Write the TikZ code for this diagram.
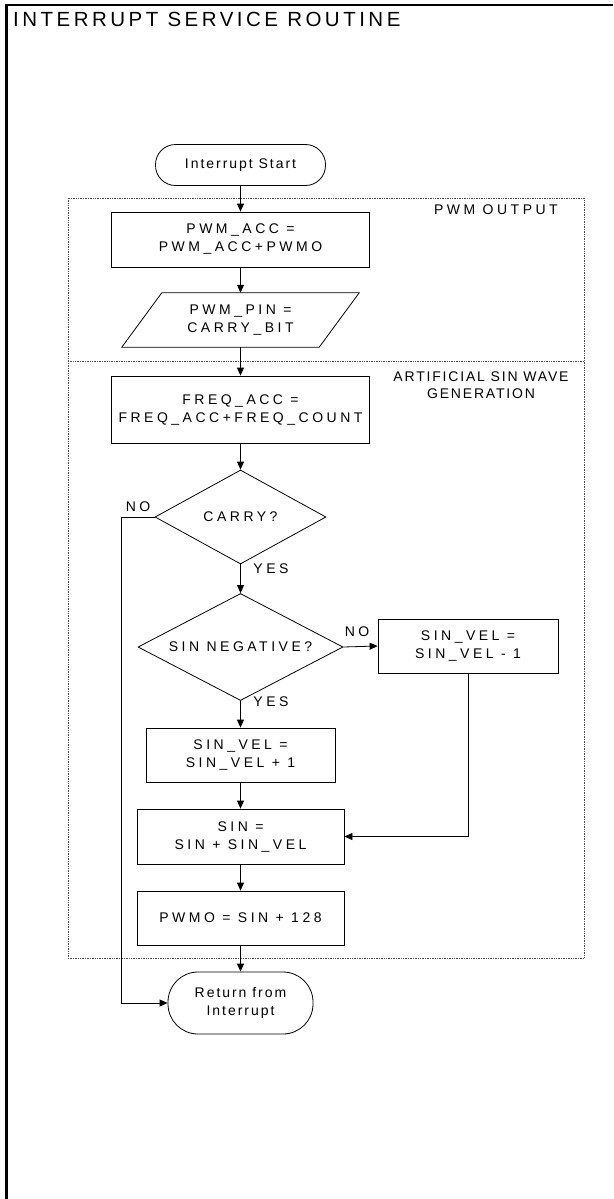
\documentclass[tikz,border=0pt]{standalone}
\usepackage{fontspec}
\setmainfont{Liberation Sans}
\usetikzlibrary{shapes.geometric,arrows.meta}
\newfontfamily\boxfam[LetterSpace=25]{Liberation Sans}
\newfontfamily\termfam[LetterSpace=14]{Liberation Sans}
\newfontfamily\titlefam[LetterSpace=17]{Liberation Sans}
\newfontfamily\artfam[LetterSpace=13]{Liberation Sans}
\newcommand\boxfont{\boxfam\fontsize{14}{18}\selectfont}
\newcommand\termfont{\termfam\fontsize{14}{18}\selectfont}
\newcommand\titlefont{\titlefam\fontsize{20.5}{24}\selectfont}
\newcommand\artfont{\artfam\fontsize{14}{17}\selectfont}
\tikzset{
  base/.style={font=\boxfont, inner sep=0pt, align=center},
  proc/.style={base, draw, rectangle, line width=0.8pt},
  term/.style={base, font=\termfont, draw, rectangle, line width=0.8pt},
  dec/.style={base, draw, diamond, aspect=2, line width=0.8pt},
  arr/.style={-{Triangle[length=8pt,width=7pt]}, line width=0.8pt},
  conn/.style={line width=0.8pt},
  lbl/.style={font=\boxfont, inner sep=0pt},
  zone/.style={densely dotted, line width=0.7pt, draw=black!70},
  frame/.style={line width=2.5pt}
}
\begin{document}
\begin{tikzpicture}[x=1pt,y=-1pt]
\useasboundingbox (0,0) rectangle (613,1199);
% outer frame (top and left only)
\coordinate (ftl) at (6.5,5);
\coordinate (ftr) at (613,5);
\coordinate (fbl) at (6.5,1199);
\draw[frame] (ftr) -- (ftl) -- (fbl);
\node[anchor=base west, inner sep=0pt, font=\titlefont] (title) at (13,27) {INTERRUPT SERVICE ROUTINE};

% zones
\coordinate (z1) at (68,198);
\coordinate (z2) at (584,958);
\coordinate (d1) at (68,361);
\coordinate (d2) at (584,361);
\draw[zone] (z1) rectangle (z2);
\draw[zone] (d1) -- (d2);
\node[lbl, anchor=base east] (pwmlbl) at (558,214) {PWM OUTPUT};
\node[inner sep=0pt, font=\artfont, align=center] (artlbl) at (481,385) {ARTIFICIAL SIN WAVE\\GENERATION};

% nodes
\node[term, minimum width=170pt, minimum height=41pt, rounded corners=20pt] (start) at (240.5,165) {Interrupt Start};
\node[proc, minimum width=258pt, minimum height=55pt] (pwmacc) at (240.5,239.5) {PWM\_ACC =\\PWM\_ACC+PWMO};
\node[base, minimum width=197pt, minimum height=54pt] (pin) at (240.5,320) {PWM\_PIN =\\CARRY\_BIT};
\draw[conn] ([xshift=20pt]pin.north west) -- ([xshift=20pt]pin.north east) -- ([xshift=-20pt]pin.south east) -- ([xshift=-20pt]pin.south west) -- cycle;
\node[proc, minimum width=258pt, minimum height=67pt] (freq) at (240.5,409.5) {FREQ\_ACC =\\FREQ\_ACC+FREQ\_COUNT};
\node[dec, minimum width=171pt, minimum height=94pt] (carry) at (240.5,517) {CARRY?};
\node[dec, minimum width=205pt, minimum height=107pt] (sinneg) at (240.5,647) {SIN NEGATIVE?};
\node[proc, minimum width=180pt, minimum height=54pt] (vel1) at (468,646) {SIN\_VEL =\\SIN\_VEL - 1};
\node[proc, minimum width=189pt, minimum height=54pt] (velp1) at (240.5,755) {SIN\_VEL =\\SIN\_VEL + 1};
\node[proc, minimum width=207pt, minimum height=55pt] (sin) at (240.5,836.5) {SIN =\\SIN + SIN\_VEL};
\node[proc, minimum width=207pt, minimum height=54pt] (pwmo) at (240.5,918) {PWMO = SIN + 128};
\node[term, minimum width=145pt, minimum height=62pt, rounded corners=30pt] (ret) at (240.5,1003) {Return from\\Interrupt};

% labels
\node[lbl] (no1) at (138,507) {NO};
\node[lbl] (yes1) at (271,568.5) {YES};
\node[lbl] (no2) at (357,632) {NO};
\node[lbl] (yes2) at (271,702) {YES};

% connectors
\draw[arr] (start.south) -- (pwmacc.north);
\draw[arr] (pwmacc.south) -- (pin.north);
\draw[arr] (pin.south) -- (freq.north);
\draw[arr] (freq.south) -- (carry.north);
\draw[arr] (carry.south) -- (sinneg.north);
\coordinate (lc) at (121,517);
\draw[arr] (carry.west) -- (lc) |- (ret.west);
\draw[arr] (sinneg.east) -- (vel1.west);
\draw[arr] (sinneg.south) -- (velp1.north);
\draw[arr] (velp1.south) -- (sin.north);
\draw[arr] (vel1.south) |- (sin.east);
\draw[arr] (sin.south) -- (pwmo.north);
\draw[arr] (pwmo.south) -- (ret.north);
\end{tikzpicture}
\end{document}
